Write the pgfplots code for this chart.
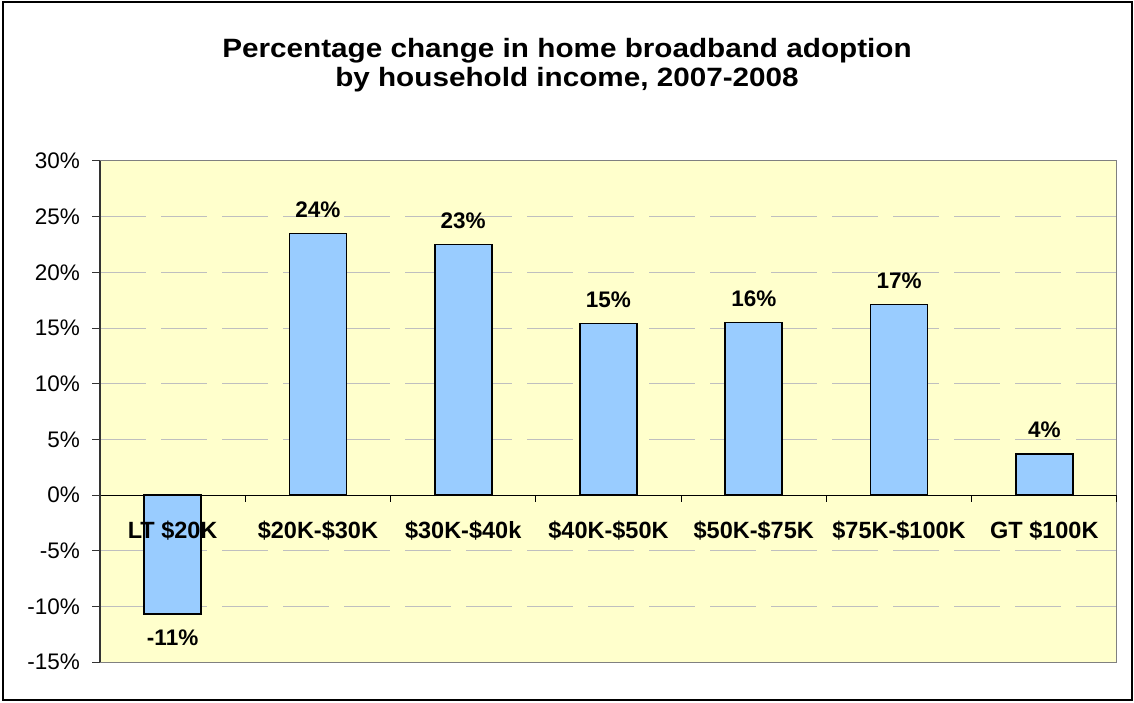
\documentclass[border=0pt]{standalone}
\usepackage{fontspec}
\setmainfont{Liberation Sans}
\newfontfamily\titlefont[FakeStretch=1.12]{Liberation Sans}
\usepackage{pgfplots}
\pgfplotsset{compat=1.18}
\definecolor{plotbg}{HTML}{FFFFCC}
\definecolor{barfill}{HTML}{99CCFF}
\definecolor{gridgray}{HTML}{BFBFBF}
\definecolor{boxgray}{HTML}{808080}
\newcommand\lblfont{\fontsize{22.5}{27}\selectfont}
\newcommand\catfont{\fontsize{23.5}{28}\selectfont}
\pgfplotsset{chartframe/.style={
  at={(100pt,40pt)}, anchor=south west,
  scale only axis, width=1017pt, height=501pt,
  xmin=-0.5, xmax=6.5, ymin=-15, ymax=30,
  /pgf/number format/assume math mode=true,
  clip=false}}
\begin{document}
\begin{tikzpicture}[x=1pt,y=1pt]
\useasboundingbox (0,0) rectangle (1134,702);
\draw[line width=1.6pt] (3,2) rectangle (1132,700);
\node[font=\titlefont\fontsize{26.5}{29.5}\selectfont\bfseries, align=center] at (567,637) {Percentage change in home broadband adoption\\by household income, 2007-2008};
\begin{axis}[
  chartframe,
  axis background/.style={fill=plotbg},
  axis line style={boxgray, line width=1pt},
  ytick={-15,-10,...,30},
  yticklabel={\pgfmathprintnumber{\tick}\%},
  yticklabel style={font=\lblfont, inner sep=0pt, xshift=-12pt},
  ytick pos=left,
  ytick style={black!80, line width=1pt},
  tick align=outside,
  major tick length=8pt,
  ymajorgrids,
  major grid style={gridgray, dash pattern=on 46pt off 15pt, line width=1pt},
  extra y ticks={0},
  extra y tick labels={},
  extra y tick style={grid=major, major grid style={black, solid, line width=1pt}},
  xtick=\empty,
]
\addplot[ybar, bar width=57pt, fill=barfill, draw=black, line width=1.6pt,
  point meta=explicit,
  nodes near coords={\pgfmathprintnumber[fixed,precision=0]{\pgfplotspointmeta}\%},
  nodes near coords style={font=\lblfont\bfseries, inner ysep=15pt, black}]
  table[x=x, y=y, meta=lab] {
x y lab
0 -10.7 -11
1 23.5 24
2 22.5 23
3 15.4 15
4 15.5 16
5 17.1 17
6 3.7 4
};
\pgfplotsinvokeforeach{0.5,1.5,2.5,3.5,4.5,5.5,6.5}{
  \draw[black, line width=1pt] (axis cs:#1,0) -- (axis cs:#1,-0.63);
}
\draw[black!80, line width=1.2pt] (rel axis cs:0,0) -- (rel axis cs:0,1);
\end{axis}
% second axis: category names drawn on top of the bars
\begin{axis}[
  chartframe,
  axis line style={draw=none},
  ytick=\empty,
  xtick={0,...,6},
  xticklabels={LT \$20K, \$20K-\$30K, \$30K-\$40k, \$40K-\$50K, \$50K-\$75K, \$75K-\$100K, GT \$100K},
  xtick style={draw=none},
  xticklabel style={font=\catfont\bfseries, inner sep=0pt, anchor=north},
  xticklabel shift=-141pt,
]
\end{axis}
\end{tikzpicture}
\end{document}
